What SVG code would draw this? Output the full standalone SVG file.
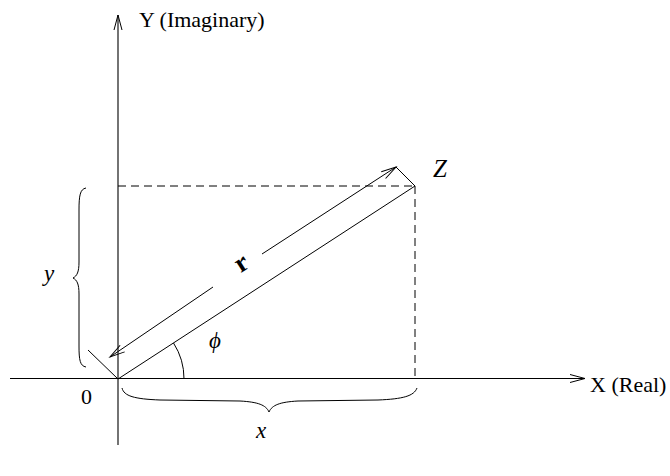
<svg xmlns="http://www.w3.org/2000/svg" width="670" height="476" viewBox="0 0 670 476">
<style>
.ln{stroke:#000;stroke-width:1;fill:none}
.ax{stroke:#000;stroke-width:1.1;fill:none}
.dash{stroke:#000;stroke-width:1;fill:none;stroke-dasharray:8,5}
.t{font-family:"Liberation Serif","Times New Roman",serif;font-size:22px;fill:#000}
.m{font-family:"Liberation Serif","Times New Roman",serif;font-size:23px;font-style:italic;fill:#000}
</style>
<defs>
<marker id="ah" markerUnits="userSpaceOnUse" markerWidth="20" markerHeight="12" refX="0" refY="0" viewBox="-16 -6 20 12" orient="auto-start-reverse" overflow="visible">
<path d="M-15,-4 L0,0 L-15,4" fill="none" stroke="#000" stroke-width="1"/>
</marker>
</defs>
<g id="axes">
<line class="ax" x1="118" y1="445" x2="118" y2="15" marker-end="url(#ah)"/>
<line class="ax" x1="10" y1="378.5" x2="585" y2="378.5" marker-end="url(#ah)"/>
</g>
<g id="connectors">
<line class="ln" x1="118" y1="379" x2="415" y2="186"/>
<line class="dash" x1="118" y1="186" x2="415" y2="186"/>
<line class="dash" x1="415" y1="186" x2="415" y2="379"/>
<line class="ln" x1="118" y1="379" x2="88" y2="350"/>
<line class="ln" x1="415" y1="186" x2="396" y2="167"/>
<line class="ln" x1="110" y1="357" x2="213" y2="287" marker-start="url(#ah)"/>
<line class="ln" x1="262" y1="254" x2="396" y2="167" marker-end="url(#ah)"/>
<path class="ln" d="M184,379 A66,66 0 0 0 173.5,343"/>
<path class="ln" d="M86,188 C80,189 79,196 79,210 L79,262 C79,272 77,276 73,278 C77,280 79,284 79,294 L79,346 C79,360 80,366 86,367"/>
<path class="ln" d="M122,388 C124,396 134,399 160,400 L240,401 C258,402 266,405 269,412 C272,405 280,402 298,401 L378,400 C403,399 414,396 417,388"/>
</g>
<g id="labels">
<text class="t" x="139" y="27">Y (Imaginary)</text>
<text class="t" x="590" y="392">X (Real)</text>
<text class="t" x="81" y="404">0</text>
<text class="m" x="433" y="177" style="font-size:25px">Z</text>
<text class="m" x="44" y="281">y</text>
<text class="m" x="256" y="438">x</text>
<text class="m" x="209" y="348">ϕ</text>
<text class="t" x="242" y="271" text-anchor="middle" style="font-size:27px;font-weight:bold" transform="rotate(-33 242 264)">r</text>
</g>
</svg>
